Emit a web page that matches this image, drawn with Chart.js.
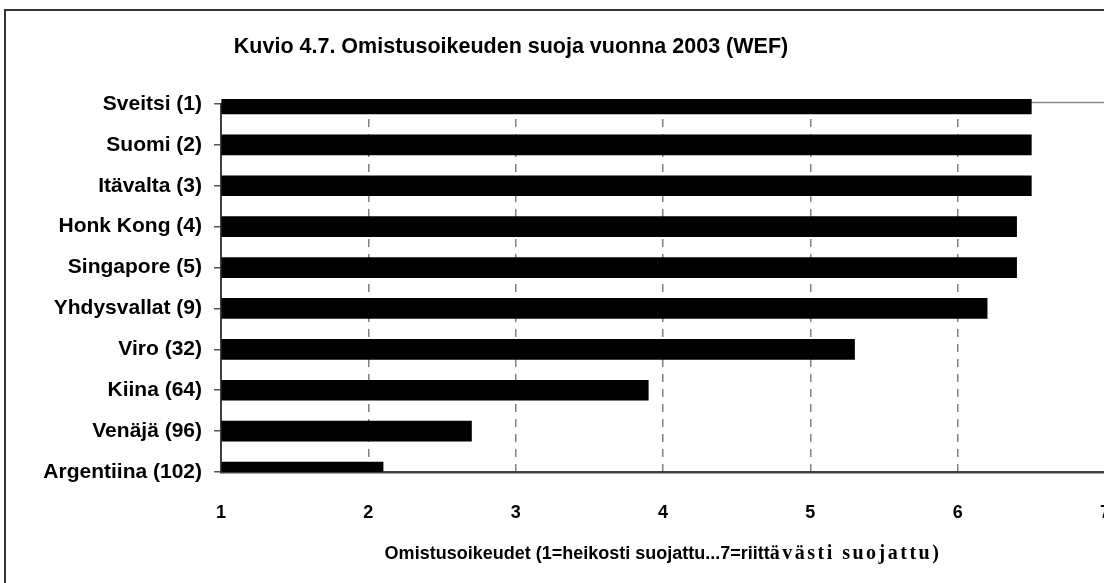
<!DOCTYPE html>
<html>
<head>
<meta charset="utf-8">
<script src="https://cdn.jsdelivr.net/npm/chart.js@4/dist/chart.umd.min.js"></script>
<style>
html,body{margin:0;padding:0;overflow:hidden;background:#fff;width:1104px;height:583px}
#frame{position:absolute;left:4px;top:9px;width:1300px;height:700px;border-left:2px solid #333;border-top:2px solid #333}
#myChart{position:absolute;left:0;top:0}
</style>
</head>
<body>
<div id="frame"></div>
<canvas id="myChart" width="1170" height="583"></canvas>
<script>
// values (scale 1..7)
let countries=["Sveitsi (1)","Suomi (2)","Itävalta (3)","Honk Kong (4)","Singapore (5)",
    "Yhdysvallat (9)","Viro (32)","Kiina (64)","Venäjä (96)","Argentiina (102)"]
let scores=[6.5,6.5,6.5,6.4,6.4,6.2,5.3,3.9,2.7,2.1]
let xMin=1,xMax=7
let chartTitle="Kuvio 4.7. Omistusoikeuden suoja vuonna 2003 (WEF)"
let axisTitleSans="Omistusoikeudet (1=heikosti suojattu...7=riitt"
let axisTitleSerif="ävästi suojattu)"

const sans='"Liberation Sans", Arial, sans-serif'

// title, x-axis title (two fonts like the original) and the grey plot frame line
const textPlugin={
    id:'texts',
    beforeDatasetsDraw(chart){
        let ctx=chart.ctx,a=chart.chartArea
        ctx.save()
        ctx.strokeStyle='#8a8a8a'
        ctx.lineWidth=1.5
        ctx.beginPath()
        ctx.moveTo(a.left,a.top-1.5)
        ctx.lineTo(a.right,a.top-1.5)
        ctx.stroke()
        ctx.restore()
    },
    afterDraw(chart){
        let ctx=chart.ctx,a=chart.chartArea
        ctx.save()
        ctx.fillStyle='#000'
        ctx.textBaseline='alphabetic'
        ctx.textAlign='center'
        ctx.font='bold 21.5px '+sans
        ctx.fillText(chartTitle,511,53)

        ctx.textAlign='left'
        ctx.font='bold 18px '+sans
        let w1=ctx.measureText(axisTitleSans).width
        ctx.font='bold 20px "Liberation Serif", "Times New Roman", serif'
        ctx.letterSpacing='2.5px'
        let w2=ctx.measureText(axisTitleSerif).width
        let x0=(a.left+a.right)/2-(w1+w2)/2
        let y0=a.bottom+87
        ctx.fillText(axisTitleSerif,x0+w1,y0)
        ctx.letterSpacing='0px'
        ctx.font='bold 18px '+sans
        ctx.fillText(axisTitleSans,x0,y0)
        ctx.restore()
    }
}

let ctx=document.getElementById('myChart').getContext('2d')
let myChart=new Chart(ctx,{
    type:'bar',
    data:{
        labels:countries,
        datasets:[{
            data:scores,
            base:xMin,
            backgroundColor:'#000',
            borderWidth:0,
            barThickness:20,
            clip:{left:0,top:5,right:0,bottom:0}
        }]
    },
    options:{
        indexAxis:'y',
        responsive:false,
        animation:false,
        devicePixelRatio:1,
        layout:{padding:{top:104,right:65,left:0,bottom:0}},
        plugins:{legend:{display:false},tooltip:{enabled:false},title:{display:false}},
        scales:{
            x:{
                min:xMin,max:xMax,
                ticks:{stepSize:1,padding:30,color:'#000',font:{family:sans,size:18,weight:'bold'}},
                grid:{color:'#808080',lineWidth:1.5,drawTicks:false},
                border:{color:'#404040',width:2.5,dash:[8,7]},
                afterFit:s=>{s.height=111}
            },
            y:{
                offset:false,
                ticks:{padding:12,color:'#000',font:{family:sans,size:21,weight:'bold'}},
                grid:{offset:false,drawOnChartArea:false,drawTicks:true,tickLength:7,color:'#555',lineWidth:1.5},
                border:{color:'#404040',width:2},
                afterFit:s=>{s.width=221}
            }
        }
    },
    plugins:[textPlugin]
})
</script>
</body>
</html>
